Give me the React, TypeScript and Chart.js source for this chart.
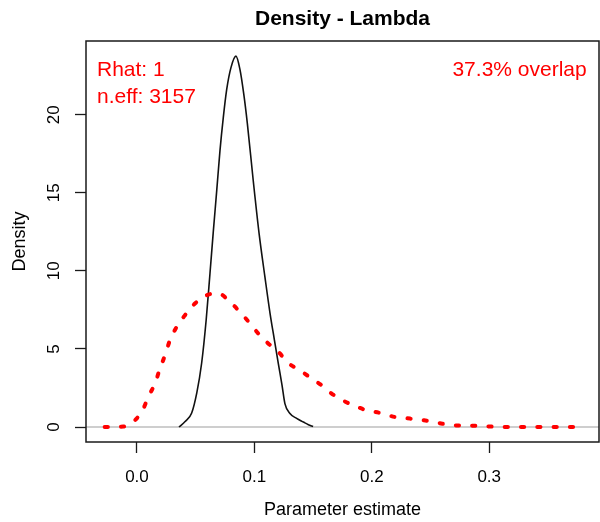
import { useEffect, useRef } from 'react'
import { Chart, registerables } from 'chart.js'

Chart.register(...registerables)

const TITLE = 'Density - Lambda'
const X_LABEL = 'Parameter estimate'
const Y_LABEL = 'Density'
const STATS_LINES = ['Rhat: 1', 'n.eff: 3157']
const OVERLAP_TEXT = '37.3% overlap'

const X_MIN = -0.0434
const X_MAX = 0.3935
const Y_MIN = -0.96
const Y_MAX = 24.72
const X_TICKS = [0, 0.1, 0.2, 0.3]
const Y_TICKS = [0, 5, 10, 15, 20]

// posterior density (solid black)
const postX = [
  0.0358, 0.041, 0.0466, 0.051, 0.0551, 0.059, 0.0622, 0.065, 0.068, 0.0707,
  0.0735, 0.0764, 0.08, 0.0843, 0.0877, 0.091, 0.094, 0.099, 0.104, 0.109,
  0.1133, 0.117, 0.1204, 0.1235, 0.126, 0.1303, 0.136, 0.1417, 0.146, 0.15,
]
const postY = [
  0, 0.35, 0.9, 2.2, 4.1, 6.9, 9.85, 12.5, 15.2, 17.7,
  19.8, 21.6, 23.0, 23.75, 22.9, 21.3, 19.45, 15.8, 12.4, 9.6,
  7.3, 5.6, 4.06, 2.7, 1.5, 0.86, 0.55, 0.32, 0.15, 0.03,
]

// prior density (red, dotted)
const priorX = [
  -0.0275, -0.0117, -0.0017, 0.0054, 0.0096, 0.0153, 0.0196, 0.0239, 0.0281, 0.0338,
  0.0409, 0.0494, 0.0594, 0.0693, 0.0792, 0.0877, 0.0963, 0.1033, 0.1118, 0.1204,
  0.1289, 0.1388, 0.148, 0.1573, 0.1658, 0.1752, 0.1843, 0.1956, 0.207, 0.2198,
  0.2325, 0.2445, 0.2567, 0.2695, 0.2836, 0.2964, 0.309, 0.33, 0.35, 0.372,
]
const priorY = [
  0, 0.03, 0.43, 1.18, 1.92, 2.78, 3.74, 4.6, 5.56, 6.41,
  7.16, 7.91, 8.44, 8.55, 8.01, 7.37, 6.63, 5.99, 5.35, 4.81,
  4.1, 3.62, 3.15, 2.67, 2.14, 1.71, 1.39, 1.07, 0.9, 0.64,
  0.54, 0.43, 0.26, 0.11, 0.09, 0.05, 0.01, 0, 0, 0,
]

const FONT = '"Liberation Sans", Arial, Helvetica, sans-serif'

const toPoints = (xs: number[], ys: number[]) => xs.map((x, i) => ({ x, y: ys[i] }))

// box around the plot region + the red annotations
const framePlugin = {
  id: 'frame',
  afterDatasetsDraw(chart: Chart) {
    const { ctx, chartArea: a } = chart
    ctx.save()
    ctx.strokeStyle = '#1a1a1a'
    ctx.lineWidth = 1.5
    ctx.strokeRect(a.left, a.top, a.right - a.left, a.bottom - a.top)

    ctx.fillStyle = '#ff0000'
    ctx.font = `21px ${FONT}`
    ctx.textBaseline = 'alphabetic'
    ctx.textAlign = 'left'
    STATS_LINES.forEach((t, i) => ctx.fillText(t, a.left + 11, a.top + 35 + i * 27))
    ctx.textAlign = 'right'
    ctx.fillText(OVERLAP_TEXT, a.right - 12.3, a.top + 35)
    ctx.restore()
  },
}

export default function App() {
  const canvasRef = useRef<HTMLCanvasElement | null>(null)

  useEffect(() => {
    const ctx = canvasRef.current?.getContext('2d')
    if (!ctx) return

    const chart = new Chart(ctx, {
      type: 'line',
      data: {
        datasets: [
          {
            label: 'prior',
            data: toPoints(priorX, priorY),
            borderColor: '#ff0000',
            borderWidth: 4,
            borderDash: [3.2, 13.1],
            borderCapStyle: 'round',
            cubicInterpolationMode: 'monotone',
            pointRadius: 0,
            order: 1,
          },
          {
            label: 'posterior',
            data: toPoints(postX, postY),
            borderColor: '#111111',
            borderWidth: 1.6,
            cubicInterpolationMode: 'monotone',
            pointRadius: 0,
            order: 2,
          },
          {
            label: 'zero',
            data: toPoints([X_MIN, X_MAX], [0, 0]),
            borderColor: '#bebebe',
            borderWidth: 1.3,
            pointRadius: 0,
            order: 3,
          },
        ],
      },
      options: {
        animation: false,
        responsive: true,
        maintainAspectRatio: false,
        events: [],
        layout: { padding: { top: 0, right: 1, bottom: 0, left: 0 } },
        plugins: {
          legend: { display: false },
          tooltip: { enabled: false },
          title: {
            display: true,
            text: TITLE,
            fullSize: false,
            color: '#000',
            font: { family: FONT, size: 21, weight: 'bold', lineHeight: 1.2 },
            padding: { top: 6.8, bottom: 9 },
          },
        },
        scales: {
          x: {
            type: 'linear',
            min: X_MIN,
            max: X_MAX,
            afterBuildTicks: (scale: any) => {
              scale.ticks = X_TICKS.map((v) => ({ value: v }))
            },
            afterFit: (scale: any) => {
              scale.height = 80
            },
            border: { display: false },
            grid: {
              drawOnChartArea: false,
              drawTicks: true,
              tickLength: 11,
              tickColor: '#1a1a1a',
              tickWidth: 1.3,
            },
            ticks: {
              color: '#000',
              font: { family: FONT, size: 17 },
              padding: 14.2,
              maxRotation: 0,
              callback: (v: any) => Number(v).toFixed(1),
            },
            title: {
              display: true,
              text: X_LABEL,
              color: '#000',
              font: { family: FONT, size: 18 },
              padding: { top: 0, bottom: 0.7 },
            },
          },
          y: {
            type: 'linear',
            min: Y_MIN,
            max: Y_MAX,
            afterBuildTicks: (scale: any) => {
              scale.ticks = Y_TICKS.map((v) => ({ value: v }))
            },
            afterFit: (scale: any) => {
              scale.width = 86
            },
            border: { display: false },
            grid: {
              drawOnChartArea: false,
              drawTicks: true,
              tickLength: 11,
              tickColor: '#1a1a1a',
              tickWidth: 1.3,
            },
            ticks: {
              color: '#000',
              font: { family: FONT, size: 17 },
              padding: 11.5,
              minRotation: 90,
              maxRotation: 90,
              crossAlign: 'center',
              callback: (v: any) => String(v),
            },
            title: {
              display: true,
              text: Y_LABEL,
              color: '#000',
              font: { family: FONT, size: 18 },
              padding: { top: 9.7, bottom: 0 },
            },
          },
        },
      },
      plugins: [framePlugin],
    } as any)

    return () => chart.destroy()
  }, [])

  return (
    <div style={{ position: 'fixed', left: 0, top: 0, width: 600, height: 522, background: '#fff' }}>
      <canvas ref={canvasRef} />
    </div>
  )
}
